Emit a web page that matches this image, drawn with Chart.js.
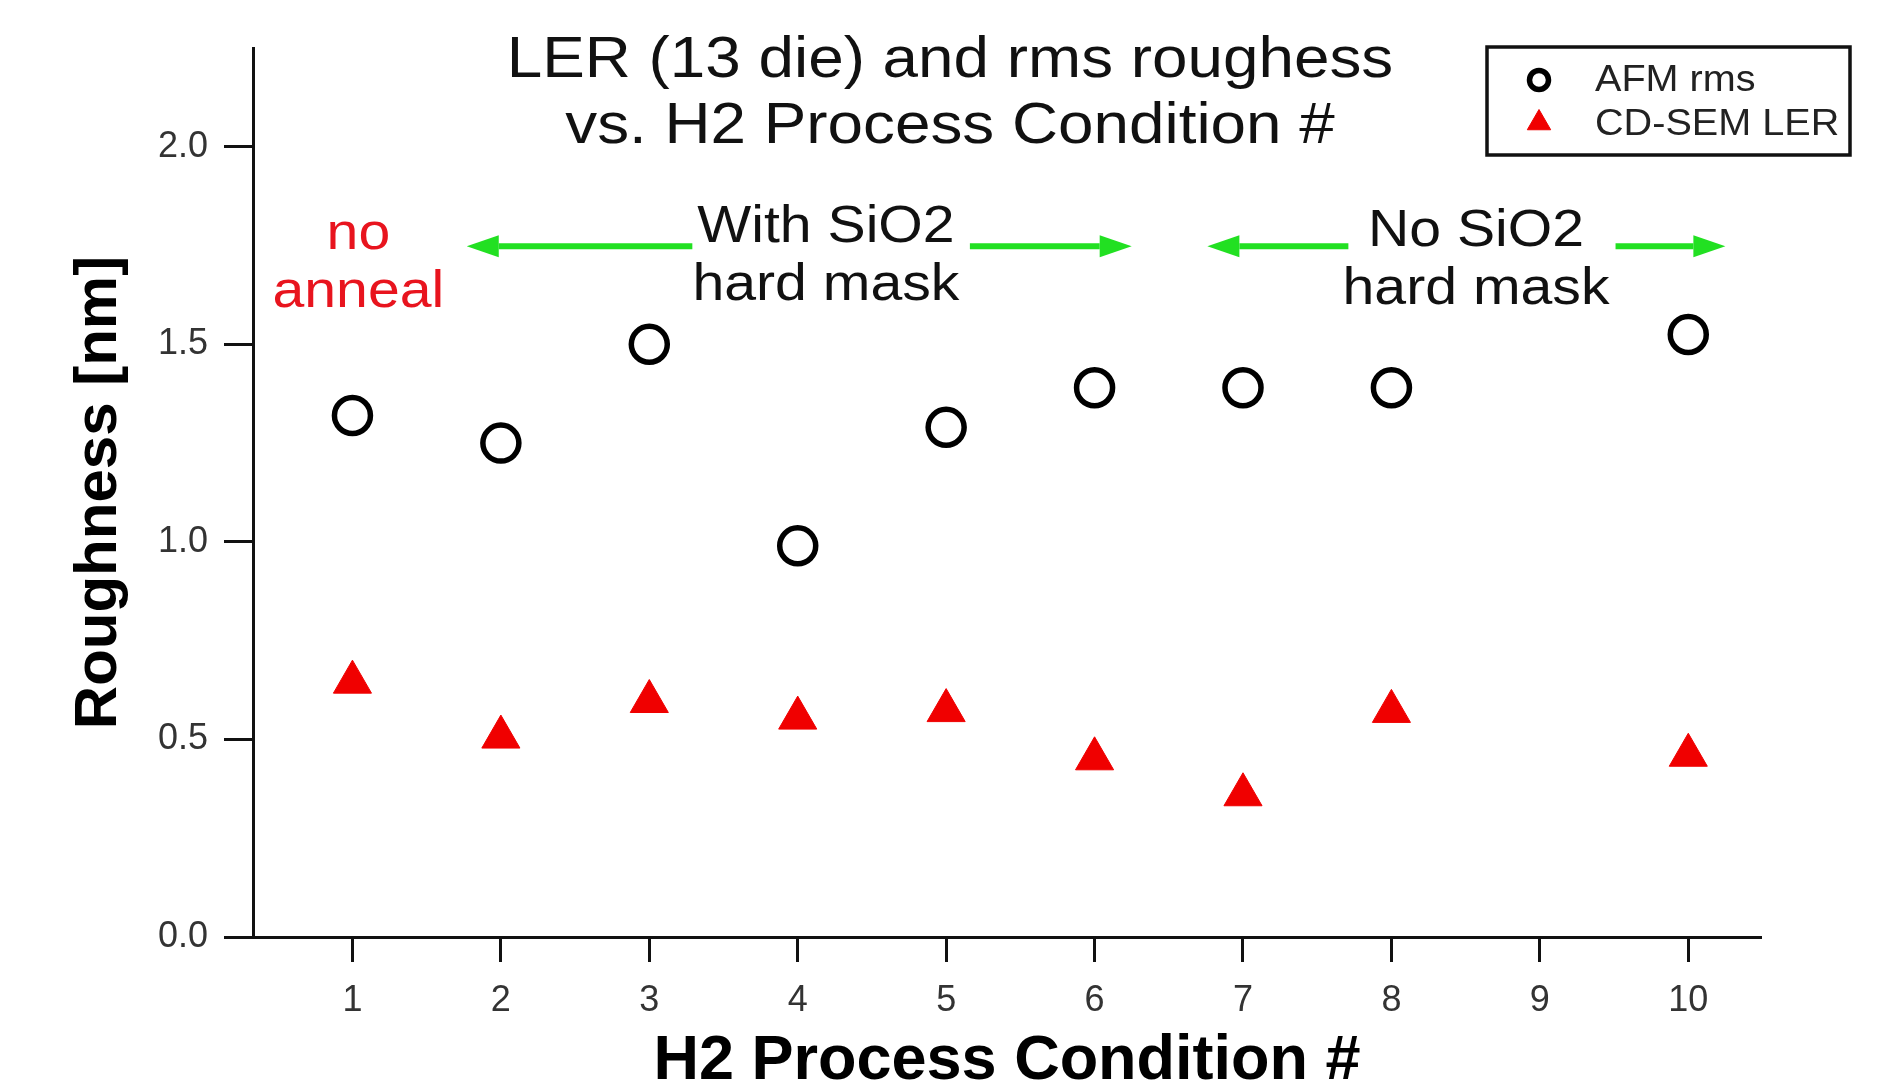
<!DOCTYPE html>
<html>
<head>
<meta charset="utf-8">
<title>LER and rms roughness vs. H2 process condition</title>
<script src="https://cdn.jsdelivr.net/npm/chart.js@4/dist/chart.umd.min.js"></script>
<style>
  html, body { margin: 0; padding: 0; background: #fff; }
  #wrap { width: 1887px; height: 1084px; }
</style>
</head>
<body>
<div id="wrap"><canvas id="roughChart"></canvas></div>
<script>
// ── data ─────────────────────────────────────────────────────
const conditions = [1, 2, 3, 4, 5, 6, 7, 8, 9, 10];
const afmRms     = [1.32, 1.25, 1.50, 0.99, 1.29, 1.39, 1.39, 1.39, null, 1.525];
const semLer     = [0.645, 0.506, 0.596, 0.554, 0.573, 0.451, 0.360, 0.571, null, 0.460];
const seriesNames = ['AFM rms', 'CD-SEM LER'];
const xTicks = [1, 2, 3, 4, 5, 6, 7, 8, 9, 10];
const yTicks = [0, 0.5, 1.0, 1.5, 2.0];
const titleLines = ['LER (13 die) and rms roughess', 'vs. H2 Process Condition #'];

// annotations, in data units
const notes = [
  { lines: ['no', 'anneal'],          x: 1.04, y: 1.742, red: true },
  { lines: ['With SiO2', 'hard mask'], x: 4.19, y: 1.760 },
  { lines: ['No SiO2', 'hard mask'],   x: 8.57, y: 1.750 },
];
const arrowLevel = 1.748;
const arrows = [
  { from: 3.29, to: 1.77 },
  { from: 5.16, to: 6.25 },
  { from: 7.71, to: 6.76 },
  { from: 9.51, to: 10.25 },
];

// ── styles ───────────────────────────────────────────────────
const FONT  = '"Liberation Sans", Arial, Helvetica, sans-serif';
const INK   = '#111111';
const RED   = '#f00000';
const NOTE_RED = '#e8141e';
const GREEN = '#22e022';
const STRETCH = 1.1;   // the source picture is a little wide

function wideText(ctx, str, x, y) {
  ctx.save();
  ctx.translate(x, y);
  ctx.scale(STRETCH, 1);
  ctx.fillText(str, 0, 0);
  ctx.restore();
}

function mark(ctx, style, cx, cy, r) {
  ctx.beginPath();
  if (style === 'circle') {
    ctx.arc(cx, cy, r, 0, Math.PI * 2);
  } else {
    ctx.moveTo(cx, cy - r);
    ctx.lineTo(cx + r * 0.866, cy + r / 2);
    ctx.lineTo(cx - r * 0.866, cy + r / 2);
    ctx.closePath();
  }
  ctx.fill();
  ctx.stroke();
}

// ── overlay: title, notes, arrows, boxed legend ──────────────
const overlay = {
  id: 'overlay',
  afterDraw(chart) {
    const { ctx, scales: { x, y } } = chart;
    ctx.save();
    ctx.textBaseline = 'alphabetic';
    ctx.textAlign = 'center';

    // title
    ctx.fillStyle = INK;
    ctx.font = `58px ${FONT}`;
    titleLines.forEach((t, i) => wideText(ctx, t, 950, 77 + i * 66));

    // notes
    ctx.font = `52px ${FONT}`;
    notes.forEach(n => {
      ctx.fillStyle = n.red ? NOTE_RED : INK;
      const px = x.getPixelForValue(n.x), py = y.getPixelForValue(n.y);
      n.lines.forEach((ln, i) => wideText(ctx, ln, px, py + i * 58));
    });

    // arrows
    ctx.strokeStyle = GREEN;
    ctx.fillStyle = GREEN;
    ctx.lineWidth = 6;
    const ay = y.getPixelForValue(arrowLevel);
    arrows.forEach(a => {
      const x0 = x.getPixelForValue(a.from), x1 = x.getPixelForValue(a.to);
      const dir = Math.sign(x1 - x0), head = 32;
      ctx.beginPath();
      ctx.moveTo(x0, ay);
      ctx.lineTo(x1 - dir * head, ay);
      ctx.stroke();
      ctx.beginPath();
      ctx.moveTo(x1, ay);
      ctx.lineTo(x1 - dir * head, ay - 11);
      ctx.lineTo(x1 - dir * head, ay + 11);
      ctx.closePath();
      ctx.fill();
    });

    // legend
    const box = { l: 1487, t: 47, r: 1850, b: 155 };
    ctx.fillStyle = '#fff';
    ctx.fillRect(box.l, box.t, box.r - box.l, box.b - box.t);
    ctx.strokeStyle = INK;
    ctx.lineWidth = 3.5;
    ctx.strokeRect(box.l, box.t, box.r - box.l, box.b - box.t);

    const rows = [
      { my: 80,  ty: 91,  r: 9.5,  lw: 5.5 },
      { my: 123, ty: 135, r: 13.5, lw: 1 },
    ];
    ctx.font = `36px ${FONT}`;
    ctx.textAlign = 'left';
    chart.data.datasets.forEach((ds, i) => {
      const row = rows[i];
      ctx.fillStyle = ds.pointBackgroundColor;
      ctx.strokeStyle = ds.pointBorderColor;
      ctx.lineWidth = row.lw;
      mark(ctx, ds.pointStyle, 1539, row.my, row.r);
      ctx.fillStyle = '#222';
      wideText(ctx, ds.label, 1595, row.ty);
    });
    ctx.restore();
  }
};

// ── chart ────────────────────────────────────────────────────
const toPoints = vals => conditions.map((c, i) => ({ x: c, y: vals[i] }));

const axisGrid = len => ({
  display: true, drawOnChartArea: false, drawTicks: true,
  tickLength: len, tickWidth: 3, tickColor: INK,
});

new Chart(document.getElementById('roughChart'), {
  type: 'scatter',
  data: {
    datasets: [
      {
        label: seriesNames[0], data: toPoints(afmRms),
        pointStyle: 'circle', pointRadius: 18, pointBorderWidth: 5.5,
        pointBorderColor: '#000', pointBackgroundColor: 'rgba(0,0,0,0)',
      },
      {
        label: seriesNames[1], data: toPoints(semLer),
        pointStyle: 'triangle', pointRadius: 22, pointBorderWidth: 1,
        pointBorderColor: RED, pointBackgroundColor: RED,
      },
    ]
  },
  options: {
    responsive: true, maintainAspectRatio: false, animation: false,
    events: [], clip: false,
    layout: { padding: { top: 48, right: 126, bottom: 0, left: 0 } },
    plugins: { legend: { display: false }, tooltip: { enabled: false }, title: { display: false } },
    scales: {
      x: {
        type: 'linear', min: 0.33, max: 10.49,
        afterBuildTicks: s => { s.ticks = xTicks.map(v => ({ value: v })); },
        afterFit: s => { s.height = 147; },
        grid: axisGrid(25),
        border: { display: true, color: INK, width: 3 },
        ticks: { color: '#333', padding: 17, font: { family: FONT, size: 36 }, maxRotation: 0, autoSkip: false },
        title: {
          display: true, text: 'H2 Process Condition #', color: '#000', padding: 0,
          font: { family: FONT, size: 63, weight: 'bold', lineHeight: 0.7 },
        },
      },
      y: {
        type: 'linear', min: 0, max: 2.25,
        afterBuildTicks: s => { s.ticks = yTicks.map(v => ({ value: v })); },
        afterFit: s => { s.width = 253; },
        grid: axisGrid(29),
        border: { display: true, color: INK, width: 3 },
        ticks: { color: '#333', padding: 16, font: { family: FONT, size: 36 }, callback: v => v.toFixed(1) },
        title: {
          display: true, text: 'Roughness [nm]', color: '#000', padding: { top: 63, bottom: 0 },
          font: { family: FONT, size: 60, weight: 'bold', lineHeight: 1.2 },
        },
      },
    },
  },
  plugins: [overlay],
});
</script>
</body>
</html>
